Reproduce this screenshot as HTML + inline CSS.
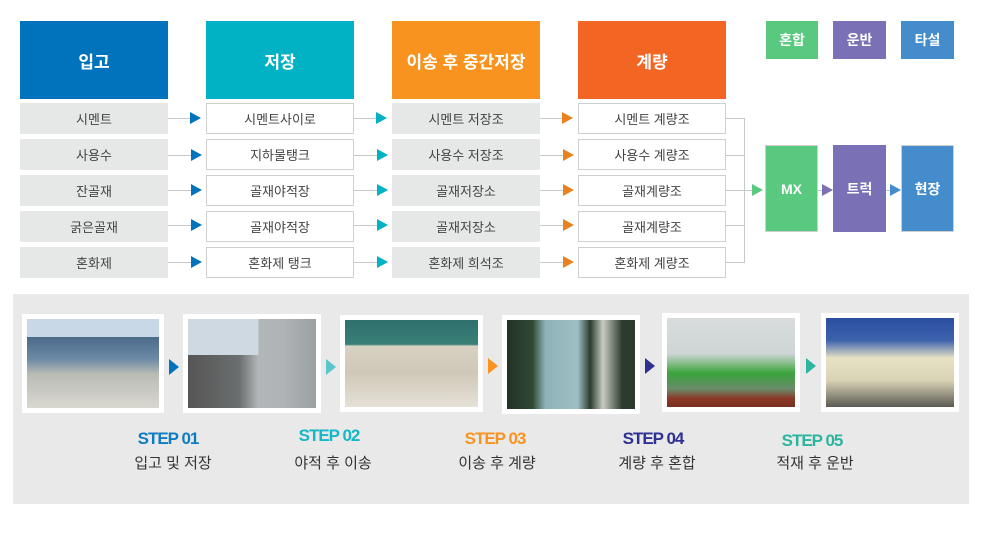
<!DOCTYPE html>
<html><head><meta charset="utf-8"><style>
*{margin:0;padding:0;box-sizing:border-box}
body{width:983px;height:535px;background:#fff;position:relative;overflow:hidden;font-family:"Liberation Sans","Noto Sans CJK KR",sans-serif}
.a{position:absolute}
.hd{position:absolute;top:21px;height:78px;width:148px;color:#fff;font-size:17px;font-weight:bold;display:flex;align-items:center;justify-content:center}
.c{position:absolute;width:148px;height:31px;font-size:13px;color:#444;display:flex;align-items:center;justify-content:center}
.g{background:#e6e7e7}
.w{background:#fff;border:1px solid #cfcfcf}
.ln{position:absolute;height:1px;background:#c8c8c8}
.tri{position:absolute;width:0;height:0;border-top:6px solid transparent;border-bottom:6px solid transparent;border-left:11px solid}
.sq{position:absolute;color:#fff;font-size:14px;font-weight:bold;display:flex;align-items:center;justify-content:center}
.ph{position:absolute;background:#fff;padding:5px}
.ph div{width:100%;height:100%}
.st{position:absolute;font-size:17px;font-weight:bold;letter-spacing:-1px;text-align:center;width:120px}
.kt{position:absolute;font-size:15px;color:#333;text-align:center;width:120px}
</style></head><body>
<div class="hd" style="left:20px;background:#0173bd">입고</div>
<div class="hd" style="left:206px;background:#00b2c3">저장</div>
<div class="hd" style="left:392px;background:#f7931e">이송 후 중간저장</div>
<div class="hd" style="left:578px;background:#f26522">계량</div>

<div class="c g" style="left:20px;top:103px">시멘트</div>
<div class="c g" style="left:20px;top:139px">사용수</div>
<div class="c g" style="left:20px;top:175px">잔골재</div>
<div class="c g" style="left:20px;top:211px">굵은골재</div>
<div class="c g" style="left:20px;top:247px">혼화제</div>

<div class="c w" style="left:206px;top:103px">시멘트사이로</div>
<div class="c w" style="left:206px;top:139px">지하물탱크</div>
<div class="c w" style="left:206px;top:175px">골재야적장</div>
<div class="c w" style="left:206px;top:211px">골재야적장</div>
<div class="c w" style="left:206px;top:247px">혼화제 탱크</div>

<div class="c g" style="left:392px;top:103px">시멘트 저장조</div>
<div class="c g" style="left:392px;top:139px">사용수 저장조</div>
<div class="c g" style="left:392px;top:175px">골재저장소</div>
<div class="c g" style="left:392px;top:211px">골재저장소</div>
<div class="c g" style="left:392px;top:247px">혼화제 희석조</div>

<div class="c w" style="left:578px;top:103px">시멘트 계량조</div>
<div class="c w" style="left:578px;top:139px">사용수 계량조</div>
<div class="c w" style="left:578px;top:175px">골재계량조</div>
<div class="c w" style="left:578px;top:211px">골재계량조</div>
<div class="c w" style="left:578px;top:247px">혼화제 계량조</div>

<!-- connectors -->
<div class="ln" style="left:168px;top:118px;width:24px"></div><div class="tri" style="left:190px;top:112px;border-left-color:#0173bd"></div>
<div class="ln" style="left:168px;top:155px;width:24px"></div><div class="tri" style="left:191px;top:149px;border-left-color:#0173bd"></div>
<div class="ln" style="left:168px;top:190px;width:24px"></div><div class="tri" style="left:191px;top:184px;border-left-color:#0173bd"></div>
<div class="ln" style="left:168px;top:225px;width:24px"></div><div class="tri" style="left:191px;top:219px;border-left-color:#0173bd"></div>
<div class="ln" style="left:168px;top:262px;width:24px"></div><div class="tri" style="left:191px;top:256px;border-left-color:#0173bd"></div>

<div class="ln" style="left:354px;top:118px;width:24px"></div><div class="tri" style="left:376px;top:112px;border-left-color:#00b2c3"></div>
<div class="ln" style="left:354px;top:155px;width:24px"></div><div class="tri" style="left:377px;top:149px;border-left-color:#00b2c3"></div>
<div class="ln" style="left:354px;top:190px;width:24px"></div><div class="tri" style="left:377px;top:184px;border-left-color:#00b2c3"></div>
<div class="ln" style="left:354px;top:225px;width:24px"></div><div class="tri" style="left:377px;top:219px;border-left-color:#00b2c3"></div>
<div class="ln" style="left:354px;top:262px;width:24px"></div><div class="tri" style="left:377px;top:256px;border-left-color:#00b2c3"></div>

<div class="ln" style="left:540px;top:118px;width:24px"></div><div class="tri" style="left:562px;top:112px;border-left-color:#e8821e"></div>
<div class="ln" style="left:540px;top:155px;width:24px"></div><div class="tri" style="left:563px;top:149px;border-left-color:#e8821e"></div>
<div class="ln" style="left:540px;top:190px;width:24px"></div><div class="tri" style="left:563px;top:184px;border-left-color:#e8821e"></div>
<div class="ln" style="left:540px;top:225px;width:24px"></div><div class="tri" style="left:563px;top:219px;border-left-color:#e8821e"></div>
<div class="ln" style="left:540px;top:262px;width:24px"></div><div class="tri" style="left:563px;top:256px;border-left-color:#e8821e"></div>

<!-- bracket -->
<div class="ln" style="left:726px;top:118px;width:19px"></div>
<div class="ln" style="left:726px;top:155px;width:19px"></div>
<div class="ln" style="left:726px;top:190px;width:27px"></div>
<div class="ln" style="left:726px;top:225px;width:19px"></div>
<div class="ln" style="left:726px;top:262px;width:19px"></div>
<div class="a" style="left:744px;top:118px;width:1px;height:145px;background:#c8c8c8"></div>
<div class="tri" style="left:752px;top:184px;border-left-color:#58c97e"></div>

<div class="sq" style="left:766px;top:21px;width:52px;height:38px;background:#58c97e">혼합</div>
<div class="sq" style="left:833px;top:21px;width:53px;height:38px;background:#7a70b5">운반</div>
<div class="sq" style="left:901px;top:21px;width:53px;height:38px;background:#448ccb">타설</div>

<div class="sq" style="left:765px;top:145px;width:53px;height:87px;background:#58c97e;border:1px solid #cfcfcf">MX</div>
<div class="ln" style="left:818px;top:190px;width:6px"></div><div class="tri" style="left:822px;top:184px;border-left-color:#7a70b5"></div>
<div class="sq" style="left:833px;top:145px;width:53px;height:87px;background:#7a70b5">트럭</div>
<div class="ln" style="left:886px;top:190px;width:6px"></div><div class="tri" style="left:890px;top:184px;border-left-color:#448ccb"></div>
<div class="sq" style="left:901px;top:145px;width:53px;height:87px;background:#448ccb;border:1px solid #cfcfcf">현장</div>

<!-- bottom panel -->
<div class="a" style="left:13px;top:294px;width:956px;height:210px;background:#e9e9e9"></div>

<div class="ph" style="left:22px;top:314px;width:142px;height:99px"><div style="background:linear-gradient(#c9d8e6 0%,#c9d8e6 20%,#4a6a8a 20%,#6d8aa5 45%,#b9bcb5 62%,#d9d7d0 100%)"></div></div>
<div class="ph" style="left:183px;top:314px;width:138px;height:99px"><div style="background:linear-gradient(90deg,#555 0%,#6b6e6f 40%,#b2b6b8 55%,#aeb3b5 75%,#9ba0a2 100%);position:relative"><div style="position:absolute;left:0;top:0;width:100%;height:40%;background:linear-gradient(90deg,#cfd9e2 0,#cfd9e2 55%,transparent 55%)"></div></div></div>
<div class="ph" style="left:340px;top:315px;width:143px;height:97px"><div style="background:linear-gradient(#2f6f6c 0%,#3a7f78 28%,#d8d2c3 30%,#cfc8b8 60%,#e6e1d6 100%)"></div></div>
<div class="ph" style="left:502px;top:315px;width:138px;height:99px"><div style="background:linear-gradient(90deg,#233226 0%,#2e4a34 20%,#8fb2b8 30%,#9ec0c4 55%,#2c3b2e 65%,#c8ccc2 75%,#2c3b2e 90%)"></div></div>
<div class="ph" style="left:662px;top:313px;width:138px;height:99px"><div style="background:linear-gradient(#d8dcdc 0%,#cfd5d6 40%,#3aa43c 62%,#6b8a6a 80%,#8a3a28 90%,#7a3020 100%)"></div></div>
<div class="ph" style="left:821px;top:313px;width:138px;height:99px"><div style="background:linear-gradient(#2b4ea0 0%,#3c62ad 25%,#e8e2c4 45%,#d9d3b6 70%,#5b5a52 100%)"></div></div>

<div class="tri" style="left:169px;top:359px;border-left-color:#0173bd;border-top-width:8px;border-bottom-width:8px;border-left-width:10px"></div>
<div class="tri" style="left:326px;top:359px;border-left-color:#5bc5cc;border-top-width:8px;border-bottom-width:8px;border-left-width:10px"></div>
<div class="tri" style="left:488px;top:358px;border-left-color:#f7931e;border-top-width:8px;border-bottom-width:8px;border-left-width:10px"></div>
<div class="tri" style="left:645px;top:358px;border-left-color:#2e3192;border-top-width:8px;border-bottom-width:8px;border-left-width:10px"></div>
<div class="tri" style="left:806px;top:358px;border-left-color:#2bb5a0;border-top-width:8px;border-bottom-width:8px;border-left-width:10px"></div>

<div class="st" style="left:108px;top:429px;color:#0d7cc2">STEP 01</div>
<div class="kt" style="left:113px;top:452px">입고 및 저장</div>
<div class="st" style="left:269px;top:426px;color:#14b7c6">STEP 02</div>
<div class="kt" style="left:273px;top:452px">야적 후 이송</div>
<div class="st" style="left:435px;top:429px;color:#f7931e">STEP 03</div>
<div class="kt" style="left:437px;top:452px">이송 후 계량</div>
<div class="st" style="left:593px;top:429px;color:#2e3192">STEP 04</div>
<div class="kt" style="left:597px;top:452px">계량 후 혼합</div>
<div class="st" style="left:752px;top:431px;color:#2bb5a0">STEP 05</div>
<div class="kt" style="left:755px;top:452px">적재 후 운반</div>
</body></html>
